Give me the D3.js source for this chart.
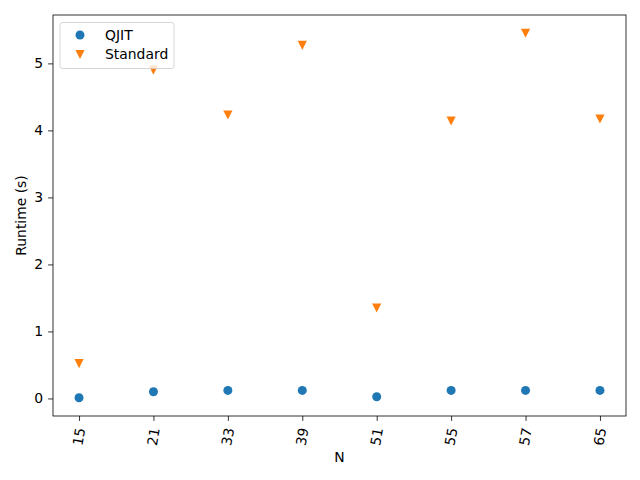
<!DOCTYPE html>
<html>
<head>
<meta charset="utf-8">
<script src="https://cdn.jsdelivr.net/npm/d3@7"></script>
<style>
  body { margin: 0; background: #fff; }
  svg { font-family: "DejaVu Sans", sans-serif; }
</style>
</head>
<body>
<div id="chart"></div>
<script>
// data
var categories = ["15", "21", "33", "39", "51", "55", "57", "65"];
var qjitValues = [0.01, 0.10, 0.12, 0.12, 0.025, 0.12, 0.12, 0.12];
var standardValues = [0.52, 4.90, 4.23, 5.27, 1.35, 4.14, 5.45, 4.17];
var yTicks = [0, 1, 2, 3, 4, 5];
var seriesNames = ["QJIT", "Standard"];

var width = 640;
var height = 480;
var margin = {top: 15, right: 14, bottom: 64, left: 53};
var fontSize = 13.9;
var blue = "#1f77b4";
var orange = "#ff7f0e";

function buildChart(){
  var svg = d3.select("#chart").append("svg")
      .attr("width", width)
      .attr("height", height);

  svg.append("rect").attr("width", width).attr("height", height).attr("fill", "#fff");

  // matplotlib style 5% margins around the data
  var x = d3.scaleLinear()
      .domain([-0.35, categories.length - 1 + 0.35])
      .range([margin.left, width - margin.right]);

  var allVals = qjitValues.concat(standardValues);
  var lo = d3.min(allVals), hi = d3.max(allVals);
  var pad = (hi - lo) * 0.05;
  var y = d3.scaleLinear()
      .domain([lo - pad, hi + pad])
      .range([height - margin.bottom, margin.top]);

  // x axis
  var xAxis = svg.append("g")
      .attr("transform", `translate(0,${height - margin.bottom})`)
      .call(d3.axisBottom(x)
        .tickValues(d3.range(categories.length))
        .tickFormat(i => categories[i])
        .tickSize(4.9)
        .tickSizeOuter(0));
  xAxis.select(".domain").remove();
  xAxis.selectAll(".tick line").attr("stroke", "#000").attr("stroke-width", 0.8);
  xAxis.selectAll(".tick text")
      .attr("font-size", fontSize)
      .attr("font-family", "DejaVu Sans")
      .attr("fill", "#000")
      .attr("text-anchor", "end")
      .attr("dy", "0.35em")
      .attr("y", 0)
      .attr("transform", "translate(1,12) rotate(-80)");

  // y axis
  var yAxis = svg.append("g")
      .attr("transform", `translate(${margin.left},0)`)
      .call(d3.axisLeft(y)
        .tickValues(yTicks)
        .tickFormat(d3.format("d"))
        .tickSize(4.9)
        .tickPadding(4.9)
        .tickSizeOuter(0));
  yAxis.select(".domain").remove();
  yAxis.selectAll(".tick line").attr("stroke", "#000").attr("stroke-width", 0.8);
  yAxis.selectAll(".tick text")
      .attr("font-size", fontSize)
      .attr("font-family", "DejaVu Sans")
      .attr("fill", "#000");

  // frame
  svg.append("rect")
      .attr("x", margin.left)
      .attr("y", margin.top)
      .attr("width", width - margin.left - margin.right)
      .attr("height", height - margin.top - margin.bottom)
      .attr("fill", "none")
      .attr("stroke", "#000")
      .attr("stroke-width", 0.8);

  // axis labels
  svg.append("text")
      .attr("x", (margin.left + width - margin.right) / 2)
      .attr("y", 462)
      .attr("text-anchor", "middle")
      .attr("font-size", fontSize)
      .text("N");

  svg.append("text")
      .attr("transform", `translate(26,${(margin.top + height - margin.bottom) / 2}) rotate(-90)`)
      .attr("text-anchor", "middle")
      .attr("font-size", fontSize)
      .text("Runtime (s)");

  var r = 4.5;

  // QJIT points
  svg.append("g")
    .selectAll("circle")
    .data(qjitValues)
    .join("circle")
      .attr("cx", (d, i) => x(i))
      .attr("cy", d => y(d))
      .attr("r", r)
      .attr("fill", blue);

  // Standard points (downward triangles)
  svg.append("g")
    .selectAll("path")
    .data(standardValues)
    .join("path")
      .attr("d", downTri)
      .attr("transform", (d, i) => `translate(${x(i)},${y(d)})`)
      .attr("fill", orange);

  // legend
  var lg = svg.append("g").attr("transform", "translate(60,22.5)");
  lg.append("rect")
      .attr("width", 114)
      .attr("height", 46)
      .attr("rx", 2.5)
      .attr("fill", "#fff")
      .attr("fill-opacity", 0.8)
      .attr("stroke", "#cccccc")
      .attr("stroke-width", 0.8);
  var rows = lg.selectAll("g.row")
    .data(seriesNames)
    .join("g")
      .attr("class", "row")
      .attr("transform", (d, i) => `translate(0,${12.5 + i * 19.5})`);
  rows.filter((d, i) => i === 0).append("circle")
      .attr("cx", 20).attr("cy", 0).attr("r", r).attr("fill", blue);
  rows.filter((d, i) => i === 1).append("path")
      .attr("d", downTri)
      .attr("transform", "translate(20,0)")
      .attr("fill", orange);
  rows.append("text")
      .attr("x", 45)
      .attr("y", 0)
      .attr("dy", "0.35em")
      .attr("font-size", fontSize)
      .text(d => d);
}

// matplotlib 'v' marker
function downTri(){
  var s = 4.6;
  return `M0,${s}L${-s},${-s}L${s},${-s}Z`;
}

buildChart();
</script>
</body>
</html>
